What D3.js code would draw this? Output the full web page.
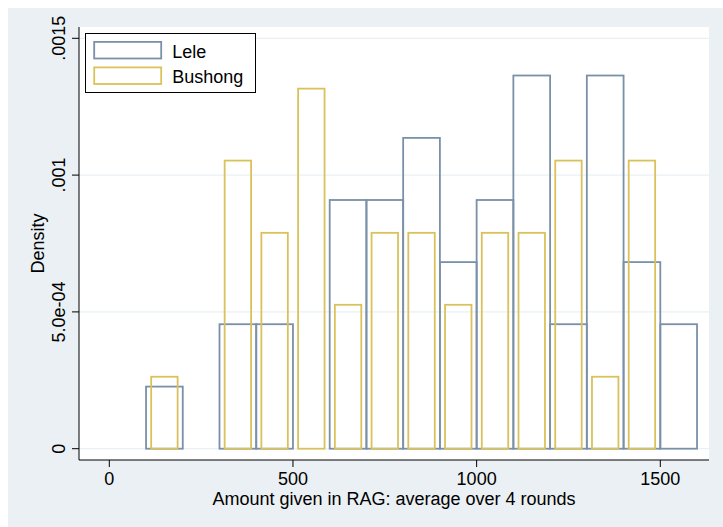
<!DOCTYPE html>
<html>
<head>
<meta charset="utf-8">
<script src="https://cdn.jsdelivr.net/npm/d3@7"></script>
<style>
  body { margin: 0; background: #fff; }
  text { font-family: "Liberation Sans", Arial, Helvetica, sans-serif; fill: #000; font-size: 18px; }
</style>
</head>
<body>
<svg id="chart" width="723" height="527"></svg>
<script>
// histogram bins, Lele (width 100) and Bushong (narrower bars at bin centres)
var leleStart = [100, 300, 400, 600, 700, 800, 900, 1000, 1100, 1200, 1300, 1400, 1500];
var leleDensity = [0.000227, 0.000455, 0.000455, 0.000909, 0.000909, 0.001136, 0.000682,
                   0.000909, 0.001364, 0.000455, 0.001364, 0.000682, 0.000455];

var bushongCenter = [150, 350, 450, 550, 650, 750, 850, 950, 1050, 1150, 1250, 1350, 1450];
var bushongDensity = [0.000263, 0.001053, 0.000789, 0.001316, 0.000526, 0.000789, 0.000789,
                      0.000526, 0.000789, 0.000789, 0.001053, 0.000263, 0.001053];

var xTicks = [0, 500, 1000, 1500];
var yTicks = [0, 0.0005, 0.001, 0.0015];
var yTickLabels = ["0", "5.0e-04", ".001", ".0015"];
var seriesNames = ["Lele", "Bushong"];

var leleColor = "#7a90a8",
    bushongColor = "#d9c25c";

var svg = d3.select("#chart");

// outer graph region
svg.append("rect")
    .attr("x", 8).attr("y", 8)
    .attr("width", 715).attr("height", 519)
    .attr("fill", "#eaf0f3");

var plot = {left: 79, right: 709, top: 27, bottom: 460};

svg.append("rect")
    .attr("x", plot.left).attr("y", plot.top)
    .attr("width", plot.right - plot.left)
    .attr("height", plot.bottom - plot.top)
    .attr("fill", "#fff");

var x = d3.scaleLinear().domain([0, 1500]).range([109.3, 660.3]);
var y = d3.scaleLinear().domain([0, 0.0015]).range([448.7, 38.3]);

// gridlines
svg.append("g")
    .selectAll("line")
    .data(yTicks)
    .enter().append("line")
    .attr("x1", plot.left).attr("x2", plot.right)
    .attr("y1", function(d) { return y(d); })
    .attr("y2", function(d) { return y(d); })
    .attr("stroke", "#eaf0f3")
    .attr("stroke-width", 1.2);

// Lele bars
svg.append("g")
    .selectAll("rect")
    .data(leleStart)
    .enter().append("rect")
    .attr("x", function(d) { return x(d); })
    .attr("width", function(d) { return x(d + 100) - x(d); })
    .attr("y", function(d, i) { return y(leleDensity[i]); })
    .attr("height", function(d, i) { return y(0) - y(leleDensity[i]); })
    .attr("fill", "none")
    .attr("stroke", leleColor)
    .attr("stroke-width", 1.8);

// Bushong bars
var bw = 72;
svg.append("g")
    .selectAll("rect")
    .data(bushongCenter)
    .enter().append("rect")
    .attr("x", function(d) { return x(d - bw / 2); })
    .attr("width", function(d) { return x(d + bw / 2) - x(d - bw / 2); })
    .attr("y", function(d, i) { return y(bushongDensity[i]); })
    .attr("height", function(d, i) { return y(0) - y(bushongDensity[i]); })
    .attr("fill", "none")
    .attr("stroke", bushongColor)
    .attr("stroke-width", 1.8);

// axes
var yAxis = svg.append("g").attr("transform", "translate(" + plot.left + ",0)");
yAxis.append("line")
    .attr("x1", 0).attr("x2", 0)
    .attr("y1", plot.top).attr("y2", plot.bottom)
    .attr("stroke", "#000");
yAxis.selectAll(".tick")
    .data(yTicks)
    .enter().append("line")
    .attr("x1", -7).attr("x2", 0)
    .attr("y1", function(d) { return y(d); })
    .attr("y2", function(d) { return y(d); })
    .attr("stroke", "#000");
yAxis.selectAll("text")
    .data(yTicks)
    .enter().append("text")
    .attr("transform", function(d) { return "translate(-14," + y(d) + ") rotate(-90)"; })
    .attr("text-anchor", "middle")
    .text(function(d, i) { return yTickLabels[i]; });

var xAxis = svg.append("g").attr("transform", "translate(0," + plot.bottom + ")");
xAxis.append("line")
    .attr("x1", plot.left).attr("x2", plot.right)
    .attr("y1", 0).attr("y2", 0)
    .attr("stroke", "#000");
xAxis.selectAll(".tick")
    .data(xTicks)
    .enter().append("line")
    .attr("x1", function(d) { return x(d); })
    .attr("x2", function(d) { return x(d); })
    .attr("y1", 0).attr("y2", 7)
    .attr("stroke", "#000");
xAxis.selectAll("text")
    .data(xTicks)
    .enter().append("text")
    .attr("x", function(d) { return x(d); })
    .attr("y", 25)
    .attr("text-anchor", "middle")
    .text(function(d) { return d; });

// axis titles
svg.append("text")
    .attr("x", (plot.left + plot.right) / 2).attr("y", 505)
    .attr("text-anchor", "middle")
    .text("Amount given in RAG: average over 4 rounds");

svg.append("text")
    .attr("transform", "translate(44," + (plot.top + plot.bottom) / 2 + ") rotate(-90)")
    .attr("text-anchor", "middle")
    .text("Density");

// legend
var legend = svg.append("g");
legend.append("rect")
    .attr("x", 85.5).attr("y", 33.5)
    .attr("width", 170).attr("height", 59)
    .attr("fill", "#fff")
    .attr("stroke", "#000")
    .attr("stroke-width", 1);

var keys = legend.selectAll(".key")
    .data(seriesNames)
    .enter().append("g")
    .attr("transform", function(d, i) { return "translate(0," + (i * 25.5) + ")"; });
keys.append("rect")
    .attr("x", 94.2).attr("y", 41.9)
    .attr("width", 67).attr("height", 16.6)
    .attr("fill", "none")
    .attr("stroke", function(d, i) { return i === 0 ? leleColor : bushongColor; })
    .attr("stroke-width", 1.8);
keys.append("text")
    .attr("x", 172.3).attr("y", 57.5)
    .text(function(d) { return d; });
</script>
</body>
</html>
